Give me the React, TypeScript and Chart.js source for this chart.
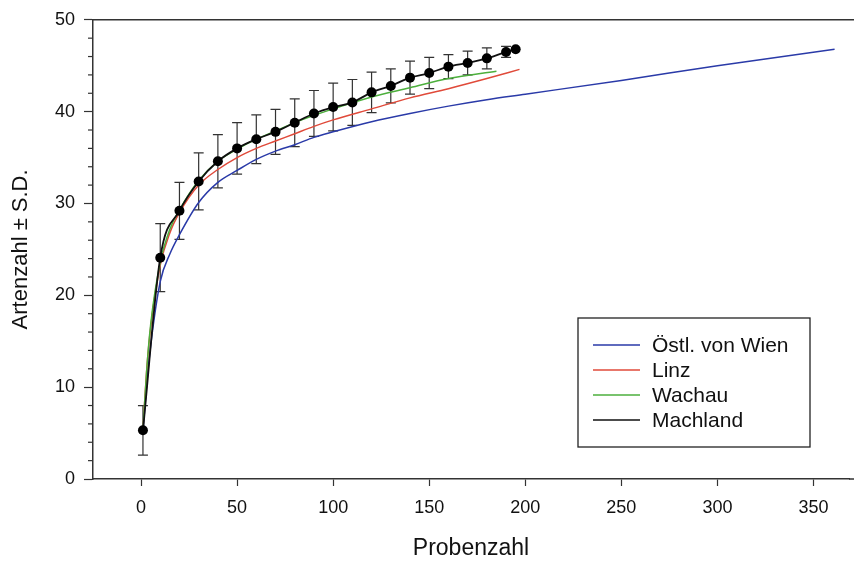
import React, { useEffect, useRef } from "react";
import { Chart, registerables } from "chart.js";

Chart.register(...registerables);

// ---- data ----
const sampleX = [1, 10, 20, 30, 40, 50, 60, 70, 80, 90, 100, 110, 120, 130, 140, 150, 160, 170, 180, 190, 195];
const machlandMean = [5.3, 24.1, 29.2, 32.4, 34.6, 36.0, 37.0, 37.8, 38.8, 39.8, 40.5, 41.0, 42.1, 42.8, 43.7, 44.2, 44.9, 45.3, 45.8, 46.5, 46.8];
const machlandSD = [2.7, 3.7, 3.1, 3.1, 2.9, 2.8, 2.65, 2.45, 2.6, 2.5, 2.6, 2.5, 2.2, 1.85, 1.8, 1.7, 1.3, 1.3, 1.15, 0.6, 0];

const wienX = [1, 3, 5, 10, 15, 20, 30, 40, 50, 60, 70, 80, 90, 100, 120, 140, 160, 180, 200, 250, 300, 361];
const wienY = [5.2, 10.4, 14.5, 21.5, 24.5, 26.6, 30.1, 32.3, 33.6, 34.8, 35.7, 36.4, 37.2, 37.8, 38.9, 39.8, 40.6, 41.3, 41.9, 43.4, 45.0, 46.8];

const linzX = [1, 3, 5, 10, 15, 20, 30, 40, 50, 60, 70, 80, 90, 100, 120, 140, 160, 180, 197];
const linzY = [5.3, 12.0, 16.5, 23.3, 26.8, 29.0, 32.0, 33.7, 35.0, 36.0, 36.8, 37.6, 38.4, 39.1, 40.3, 41.5, 42.5, 43.6, 44.6];

const wachauX = [1, 3, 5, 10, 15, 20, 30, 40, 50, 60, 70, 80, 90, 100, 120, 140, 160, 185];
const wachauY = [5.3, 12.0, 16.8, 23.6, 27.2, 29.3, 32.5, 34.6, 35.9, 37.0, 37.9, 38.8, 39.6, 40.3, 41.6, 42.6, 43.6, 44.4];

const xTicks = [0, 50, 100, 150, 200, 250, 300, 350];
const yTicks = [0, 10, 20, 30, 40, 50];
const yMinorTicks = [2, 4, 6, 8, 12, 14, 16, 18, 22, 24, 26, 28, 32, 34, 36, 38, 42, 44, 46, 48];

const seriesNames = ["Östl. von Wien", "Linz", "Wachau", "Machland"];
const seriesColors = ["#2a3aa8", "#e04a3a", "#4caf3c", "#111111"];

const FONT = "'Liberation Sans', Arial, sans-serif";

const toPts = (xs: number[], ys: number[]) => xs.map((x, i) => ({ x, y: ys[i] }));

const framePlugin = {
  id: "frame",
  afterDraw(chart: any) {
    const { ctx, chartArea, scales } = chart;
    ctx.save();
    ctx.strokeStyle = "#333";
    ctx.lineWidth = 1.5;
    ctx.beginPath();
    ctx.moveTo(chartArea.left, chartArea.top);
    ctx.lineTo(chart.width, chartArea.top);
    ctx.moveTo(chartArea.right, chartArea.bottom);
    ctx.lineTo(chart.width, chartArea.bottom);
    ctx.stroke();
    ctx.lineWidth = 1.2;
    yMinorTicks.forEach((v) => {
      const py = scales.y.getPixelForValue(v);
      ctx.beginPath();
      ctx.moveTo(chartArea.left - 5, py);
      ctx.lineTo(chartArea.left, py);
      ctx.stroke();
    });
    ctx.restore();
  },
};

const errorBarPlugin = {
  id: "errorBars",
  beforeDatasetsDraw(chart: any) {
    const { ctx, scales } = chart;
    ctx.save();
    ctx.strokeStyle = "#333";
    ctx.lineWidth = 1.2;
    sampleX.forEach((xv, i) => {
      const sd = machlandSD[i];
      if (!sd) return;
      const px = scales.x.getPixelForValue(xv);
      const top = scales.y.getPixelForValue(machlandMean[i] + sd);
      const bot = scales.y.getPixelForValue(machlandMean[i] - sd);
      ctx.beginPath();
      ctx.moveTo(px, top);
      ctx.lineTo(px, bot);
      ctx.moveTo(px - 5, top);
      ctx.lineTo(px + 5, top);
      ctx.moveTo(px - 5, bot);
      ctx.lineTo(px + 5, bot);
      ctx.stroke();
    });
    ctx.restore();
  },
};

const legendPlugin = {
  id: "boxLegend",
  afterDraw(chart: any) {
    const { ctx } = chart;
    const bx = 578, by = 318, bw = 232, bh = 129;
    ctx.save();
    ctx.fillStyle = "#fff";
    ctx.fillRect(bx, by, bw, bh);
    ctx.strokeStyle = "#222";
    ctx.lineWidth = 1.3;
    ctx.strokeRect(bx, by, bw, bh);
    ctx.font = `21px ${FONT}`;
    ctx.textBaseline = "middle";
    ctx.textAlign = "left";
    seriesNames.forEach((name, i) => {
      const ry = by + 27 + i * 25;
      ctx.strokeStyle = seriesColors[i];
      ctx.lineWidth = 1.5;
      ctx.beginPath();
      ctx.moveTo(bx + 15, ry);
      ctx.lineTo(bx + 62, ry);
      ctx.stroke();
      ctx.fillStyle = "#111";
      ctx.fillText(name, bx + 74, ry + 1);
    });
    ctx.restore();
  },
};

export default function App() {
  const ref = useRef<HTMLCanvasElement | null>(null);

  useEffect(() => {
    document.body.style.margin = "0";
    if (!ref.current) return;
    const chart = new Chart(ref.current, {
      type: "scatter",
      data: {
        datasets: [
          {
            label: seriesNames[3],
            data: toPts(sampleX, machlandMean),
            showLine: true,
            borderColor: seriesColors[3],
            backgroundColor: seriesColors[3],
            borderWidth: 1.8,
            pointRadius: 5,
            pointBackgroundColor: "#000",
            pointBorderWidth: 0,
            tension: 0.3,
            cubicInterpolationMode: "monotone",
            order: 0,
          },
          {
            label: seriesNames[2],
            data: toPts(wachauX, wachauY),
            showLine: true,
            borderColor: seriesColors[2],
            borderWidth: 1.5,
            pointRadius: 0,
            cubicInterpolationMode: "monotone",
            order: 1,
          },
          {
            label: seriesNames[1],
            data: toPts(linzX, linzY),
            showLine: true,
            borderColor: seriesColors[1],
            borderWidth: 1.5,
            pointRadius: 0,
            cubicInterpolationMode: "monotone",
            order: 2,
          },
          {
            label: seriesNames[0],
            data: toPts(wienX, wienY),
            showLine: true,
            borderColor: seriesColors[0],
            borderWidth: 1.5,
            pointRadius: 0,
            cubicInterpolationMode: "monotone",
            order: 3,
          },
        ],
      },
      options: {
        animation: false,
        responsive: false,
        maintainAspectRatio: false,
        layout: { padding: { top: 13, right: 0, left: 0, bottom: 0 } },
        plugins: {
          legend: { display: false },
          tooltip: { enabled: false },
        },
        scales: {
          x: {
            type: "linear",
            min: -25,
            max: 368.5,
            afterBuildTicks: (scale: any) => {
              scale.ticks = xTicks.map((v) => ({ value: v }));
            },
            afterFit: (scale: any) => {
              scale.height = 84;
            },
            grid: { drawOnChartArea: false, drawTicks: true, tickLength: 7, color: "#333", tickWidth: 1.2 },
            border: { display: true, color: "#333", width: 1.5 },
            ticks: { color: "#111", font: { family: FONT, size: 18 }, padding: 11, maxRotation: 0 },
            title: { display: true, text: "Probenzahl", color: "#111", font: { family: FONT, size: 23 }, padding: { top: 0, bottom: 1 } },
          },
          y: {
            type: "linear",
            min: 0,
            max: 50,
            afterBuildTicks: (scale: any) => {
              scale.ticks = yTicks.map((v) => ({ value: v }));
            },
            afterFit: (scale: any) => {
              scale.width = 93;
            },
            grid: { drawOnChartArea: false, drawTicks: true, tickLength: 9, color: "#333", tickWidth: 1.2 },
            border: { display: true, color: "#333", width: 1.5 },
            ticks: { color: "#111", font: { family: FONT, size: 18 }, padding: 9 },
            title: { display: true, text: "Artenzahl ± S.D.", color: "#111", font: { family: FONT, size: 22 }, padding: { top: 8, bottom: 0 } },
          },
        },
      },
      plugins: [errorBarPlugin, framePlugin, legendPlugin],
    } as any);
    return () => chart.destroy();
  }, []);

  return (
    <div style={{ width: 854, height: 563, background: "#fff" }}>
      <canvas ref={ref} width={854} height={563} style={{ display: "block" }} />
    </div>
  );
}
